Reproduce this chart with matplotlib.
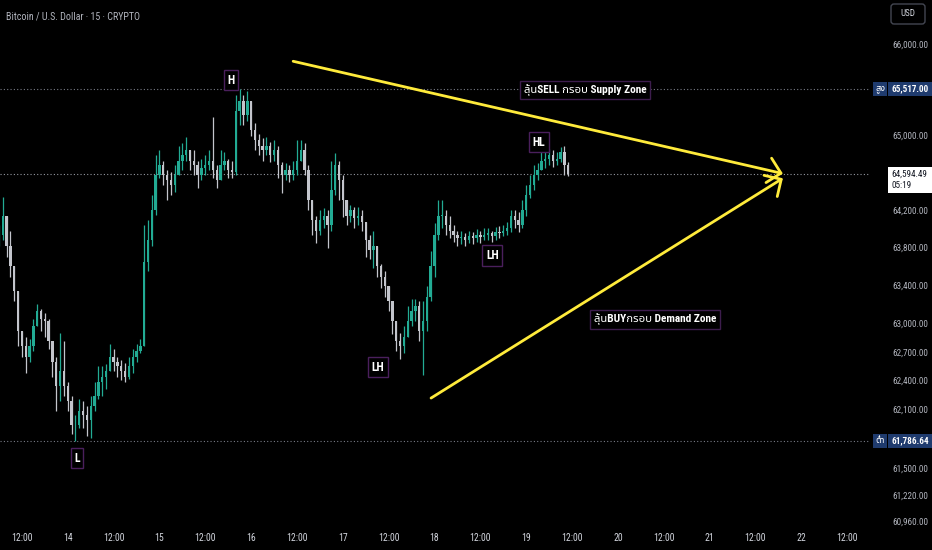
import matplotlib
matplotlib.use("Agg")
import matplotlib.pyplot as plt
import matplotlib.transforms as mtransforms
from matplotlib.patches import Rectangle, FancyBboxPatch
from matplotlib import font_manager
from matplotlib.ft2font import FT2Font
from matplotlib.ticker import NullLocator
import numpy as np

# ---------------- data ----------------
title = "Bitcoin / U.S. Dollar · 15 · CRYPTO"
first_open = 63830
closes = [
    63940, 64150, 63830, 63610, 63350, 62930, 62770, 62660, 62770, 62980,
    63140, 63050, 63030, 62820, 62610, 62350, 62510, 62350, 62200, 61950,
    61950, 62100, 62050, 62000, 62150, 62250, 62400, 62450, 62510, 62660,
    62610, 62560, 62510, 62450, 62560, 62660, 62720, 62770, 63660, 63890,
    64210, 64580, 64690, 64580, 64530, 64480, 64580, 64740, 64800, 64850,
    64740, 64690, 64580, 64660, 64690, 64740, 64640, 64530, 64690, 64740,
    64640, 64620, 65280, 65390, 65230, 65390, 65070, 64960, 64900, 64850,
    64900, 64800, 64850, 64690, 64580, 64640, 64580, 64640, 64740, 64850,
    64640, 64320, 64100, 63990, 64100, 64150, 64050, 64420, 64690, 64530,
    64320, 64150, 64210, 64120, 64150, 64080, 63890, 63780, 63830, 63610,
    63500, 63400, 63240, 63030, 62820, 62770, 62870, 63030, 63140, 63190,
    62930, 63030, 63290, 63610, 63940, 64150, 64150, 64050, 63990, 63940,
    63910, 63920, 63890, 63930, 63910, 63940, 63920, 63940, 63960, 63930,
    63970, 63960, 63990, 64020, 64150, 64100, 64050, 64210, 64370, 64480,
    64580, 64640, 64740, 64760, 64800, 64740, 64760, 64830, 64690, 64594.49,
]
highs = [
    64050, 64350, 64150, 63990, 63500, 63240, 62930, 62870, 62840, 63050,
    63210, 63160, 63120, 63050, 62820, 62660, 62910, 62820, 62400, 62250,
    62050, 62220, 62200, 62150, 62250, 62400, 62560, 62560, 62580, 62790,
    62740, 62660, 62630, 62590, 62660, 62740, 62790, 62840, 64050, 64100,
    64370, 64800, 64850, 64740, 64640, 64620, 64690, 64900, 64930, 64990,
    64850, 64850, 64740, 64760, 64800, 64850, 65210, 64690, 64850, 64830,
    64760, 64740, 65450, 65517, 65450, 65490, 65390, 65150, 65030, 64980,
    64990, 64940, 64960, 64900, 64720, 64710, 64690, 64740, 64960, 64960,
    64930, 64690, 64320, 64150, 64210, 64230, 64210, 64740, 64820, 64740,
    64580, 64320, 64260, 64240, 64240, 64210, 64050, 63940, 63990, 63710,
    63630, 63560, 63400, 63190, 63030, 62910, 62980, 63190, 63260, 63270,
    63240, 63240, 63400, 63770, 64070, 64320, 64320, 64210, 64150, 64050,
    63990, 63990, 63960, 63990, 63980, 64010, 63990, 64020, 64020, 63990,
    64030, 64040, 64050, 64080, 64210, 64210, 64190, 64320, 64480, 64580,
    64690, 64710, 64830, 64850, 64870, 64850, 64830, 64890, 64900, 64720,
]
lows = [
    63830, 63890, 63710, 63500, 63240, 62770, 62660, 62490, 62610, 62720,
    63010, 62930, 62870, 62740, 62450, 62100, 62200, 62250, 62100, 61860,
    61786.64, 61920, 61920, 61840, 61820, 62100, 62220, 62250, 62320, 62560,
    62510, 62450, 62420, 62400, 62430, 62490, 62610, 62700, 62770, 63560,
    63830, 64160, 64550, 64480, 64320, 64370, 64400, 64580, 64640, 64740,
    64640, 64580, 64450, 64530, 64580, 64640, 64550, 64450, 64530, 64640,
    64550, 64550, 64580, 65120, 65120, 65170, 65010, 64850, 64800, 64740,
    64800, 64720, 64740, 64550, 64390, 64530, 64510, 64530, 64580, 64740,
    64580, 64210, 63940, 63860, 63940, 64020, 63810, 63990, 64370, 64320,
    64130, 64050, 64080, 64020, 64050, 63990, 63710, 63690, 63590, 63500,
    63380, 63290, 63140, 62900, 62720, 62640, 62700, 62930, 62980, 63030,
    62820, 62470, 62930, 63240, 63500, 63890, 64020, 63940, 63910, 63870,
    63830, 63850, 63830, 63860, 63850, 63870, 63860, 63890, 63890, 63870,
    63890, 63910, 63930, 63940, 63970, 64020, 63970, 64020, 64150, 64340,
    64420, 64530, 64640, 64660, 64690, 64670, 64690, 64720, 64580, 64570,
]
xtick_pos = list(range(6, 223, 12))
xtick_labels = ["12:00", "14", "12:00", "15", "12:00", "16", "12:00", "17",
                "12:00", "18", "12:00", "19", "12:00", "20", "12:00", "21",
                "12:00", "22", "12:00"]
ytick_values = [66000, 65000, 64200, 63800, 63400, 63000, 62700, 62400,
                62100, 61500, 61220, 60960]
ytick_labels = ["66,000.00", "65,000.00", "64,200.00", "63,800.00",
                "63,400.00", "63,000.00", "62,700.00", "62,400.00",
                "62,100.00", "61,500.00", "61,220.00", "60,960.00"]
high_value = 65517.00
high_text = "65,517.00"
low_value = 61786.64
low_text = "61,786.64"
last_text = "64,594.49"
countdown = "05:19"
currency = "USD"

pivot_labels = ["H", "L", "LH", "LH", "HL"]
pivot_x = [60.7, 20.4, 99.2, 129.1, 141.4]
pivot_y = [65610, 61610, 62550, 63725, 64940]

zone_labels = ["ลุ้นSELL กรอบ Supply Zone", "ลุ้นBUYกรอบ Demand Zone"]
zone_x = [153.4, 171.7]
zone_y = [65506, 63050]

arrow_start = [(77.0, 65820), (113.1, 62230)]
arrow_end = [(205.2, 64600), (205.2, 64550)]

# ---------------- fonts ----------------
fl = font_manager.fontManager.ttflist
names = {f.name for f in fl}


def pick_narrow():
    for nm in ["Liberation Sans Narrow", "Roboto Condensed", "Open Sans Condensed",
               "Arial Narrow", "Noto Sans Condensed"]:
        if nm in names:
            return nm, "normal"
    for f in fl:
        if f.name == "DejaVu Sans" and str(f.stretch) in ("condensed", "semi-condensed"):
            return "DejaVu Sans", "condensed"
    if "Roboto" in names:
        return "Roboto", "normal"
    return "DejaVu Sans", "normal"


narrow, stretch = pick_narrow()


def thai_font():
    pref = ["Noto Sans Thai", "Noto Sans Thai UI", "Noto Sans Thai Looped",
            "Loma", "Garuda", "Sarabun", "Kinnari", "Norasi", "Waree",
            "Umpush", "Tlwg Typo", "Laksaman"]
    ordered = sorted(fl, key=lambda f: (pref.index(f.name) if f.name in pref else 99))
    for f in ordered:
        try:
            if 0x0E01 in FT2Font(f.fname).get_charmap():
                return f.name
        except Exception:
            pass
    return None


tf = thai_font()
thai_family = [narrow] + ([tf] if tf else []) + ["DejaVu Sans"]
plt.rcParams["font.family"] = [narrow, "DejaVu Sans"]
plt.rcParams["font.stretch"] = stretch

# ---------------- figure ----------------
W, H = 932, 550
fig = plt.figure(figsize=(W / 100, H / 100), dpi=100, facecolor="black")
ax = fig.add_axes([0, 23 / H, 870 / W, 527 / H])
ax.set_facecolor("black")
ax.set_yscale("log")
ax.set_xlim(0.26, 228.0)
ax.set_ylim(60908, 66495)
for s in ax.spines.values():
    s.set_visible(False)
ax.yaxis.set_major_locator(NullLocator())
ax.yaxis.set_minor_locator(NullLocator())
ax.set_xticks(xtick_pos, xtick_labels)
ax.tick_params(axis="x", length=0, colors="#d1d4dc", labelsize=7, pad=4)

# candles
c = np.array(closes, dtype=float)
o = np.array([first_open] + closes[:-1], dtype=float)
hi = np.maximum(np.array(highs, dtype=float), np.maximum(o, c))
lo = np.minimum(np.array(lows, dtype=float), np.minimum(o, c))
idx = np.arange(len(c))
up_col, dn_col = "#22ab94", "#c3c5cc"
cols = [up_col if cc >= oo else dn_col for oo, cc in zip(o, c)]
ax.vlines(idx, lo, hi, colors=cols, lw=0.9, zorder=2)
bottom = np.minimum(o, c)
height = np.maximum(np.abs(c - o), 6)
ax.bar(idx, height, bottom=bottom, width=0.62, color=cols, linewidth=0, zorder=3)

# dotted price lines
ax.axhline(high_value, color="#787b86", lw=0.8, ls=(0, (1, 2)), zorder=1)
ax.axhline(low_value, color="#787b86", lw=0.8, ls=(0, (1, 2)), zorder=1)
ax.axhline(closes[-1], color="#9598a1", lw=0.8, ls=(0, (1, 2)), zorder=1)

# pivot labels
for lab, px, py in zip(pivot_labels, pivot_x, pivot_y):
    ax.text(px, py, lab, color="white", fontsize=8.5, fontweight="bold",
            ha="center", va="center", zorder=6,
            bbox=dict(boxstyle="square,pad=0.3", fc="black", ec="#4a1f5c", lw=1))

# arrows
for (sx, sy), (ex, ey) in zip(arrow_start, arrow_end):
    ax.annotate("", xy=(ex, ey), xytext=(sx, sy), zorder=5,
                arrowprops=dict(arrowstyle="->,head_length=0.45,head_width=0.45",
                                color="#ffeb3b", lw=2, mutation_scale=20,
                                shrinkA=0, shrinkB=0))

# zone labels
for lab, zx, zy in zip(zone_labels, zone_x, zone_y):
    ax.text(zx, zy, lab, color="white", fontsize=8.2, fontweight="bold",
            family=thai_family, ha="center", va="center", zorder=6,
            bbox=dict(boxstyle="square,pad=0.3", fc="black", ec="#3d1d4d", lw=1))

# title
fig.text(6 / W, 1 - 17 / H, title, color="#b2b5be", fontsize=7.2, va="center", ha="left")

# ---------------- right price scale ----------------
ident = mtransforms.IdentityTransform()


def ydisp(p):
    return ax.transData.transform((1, p))[1]


yfs = 6.6
for v, lab in zip(ytick_values, ytick_labels):
    fig.text(892, ydisp(v), lab, transform=ident, color="#b2b5be",
             fontsize=yfs, va="center", ha="left")

navy = "#1f3b6e"
for val, txt, tag in [(high_value, high_text, "สูง"), (low_value, low_text, "ต่ำ")]:
    yd = ydisp(val)
    fig.add_artist(Rectangle((888, yd - 7), 44, 14, transform=ident, fc=navy, ec="none"))
    fig.add_artist(Rectangle((873, yd - 7), 14, 14, transform=ident, fc=navy, ec="none"))
    fig.text(891, yd, txt, transform=ident, color="white", fontsize=yfs,
             fontweight="bold", va="center", ha="left")
    fig.text(880, yd, tag, transform=ident, color="white", fontsize=6.5,
             family=thai_family, va="center", ha="center")

# current price badge
yd = ydisp(closes[-1])
fig.add_artist(Rectangle((888, yd - 19), 44, 26, transform=ident, fc="white", ec="none"))
fig.text(891, yd, last_text, transform=ident, color="#131722", fontsize=yfs,
         va="center", ha="left")
fig.text(891, yd - 11, countdown, transform=ident, color="#131722", fontsize=yfs,
         va="center", ha="left")

# currency box
fig.add_artist(FancyBboxPatch((891, H - 24), 34, 20, transform=ident,
                              boxstyle="round,pad=0,rounding_size=3",
                              fc="black", ec="#434651", lw=1))
fig.text(908, H - 14, currency, transform=ident, color="#d1d4dc", fontsize=6.5,
         va="center", ha="center")

fig.savefig("out.png", dpi=100, facecolor="black")
